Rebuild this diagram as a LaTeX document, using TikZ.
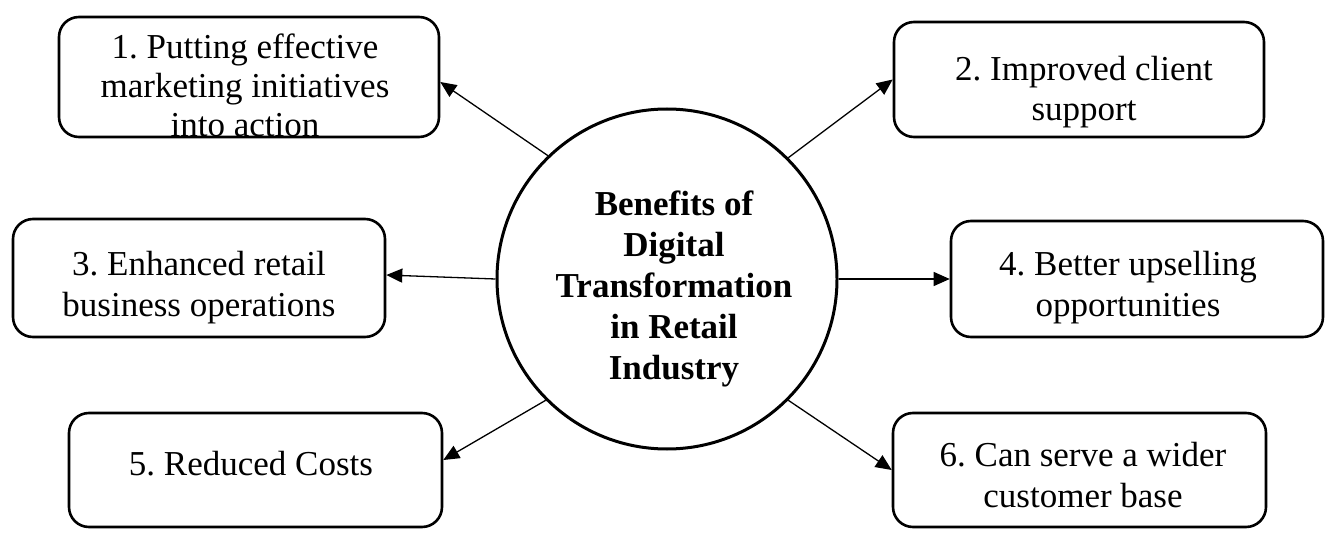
\documentclass[tikz,border=0pt]{standalone}
\usepackage{fontspec}
\setmainfont{Liberation Serif}
\usetikzlibrary{arrows.meta,calc}
\frenchspacing
\begin{document}
\begin{tikzpicture}[x=1pt,y=1pt,
  box/.style={draw, line width=2.6pt, rounded corners=20pt, inner sep=0pt},
  txt/.style={align=center, font=\fontsize{35}{40}\selectfont, inner sep=0pt},
  arr/.style={line width=1.3pt, -{Triangle[length=16pt,width=14pt]}}]
\fill[white] (0,0) rectangle (1336,558);
\useasboundingbox (0,0) rectangle (1336,558);
% centre
\node[draw, circle, line width=3pt, minimum size=340pt, inner sep=0pt] (c) at (667,279) {};
\node[txt, font=\fontsize{35}{41}\selectfont\bfseries] (ct) at (674,269) {Benefits of\\Digital\\Transformation\\in Retail\\Industry};
% boxes
\node[box, minimum width=380pt, minimum height=120pt] (b1) at (249,481) {};
\node[box, minimum width=370pt, minimum height=115pt] (b2) at (1079,478.5) {};
\node[box, minimum width=372pt, minimum height=118pt] (b3) at (199,280) {};
\node[box, minimum width=372pt, minimum height=116pt] (b4) at (1137,279) {};
\node[box, minimum width=373pt, minimum height=114pt] (b5) at (255.5,88) {};
\node[box, minimum width=373pt, minimum height=114pt] (b6) at (1079.5,88) {};
% texts
\node[txt, font=\fontsize{35}{39}\selectfont] (t1) at (245,473) {1. Putting effective\\marketing initiatives\\into action};
\node[txt] (t2) at (1084,466) {2. Improved client\\support};
\node[txt, font=\fontsize{35}{41}\selectfont] (t3) at (199,270) {3. Enhanced retail\\business operations};
\node[txt, font=\fontsize{35}{41}\selectfont] (t4) at (1128,270) {4. Better upselling\\opportunities};
\node[txt, anchor=base] (t5) at (251,83) {5. Reduced Costs};
\node[txt, font=\fontsize{35}{41}\selectfont] (t6) at (1083,83) {6. Can serve a wider\\customer base};
% arrows
\draw[arr] (c.134.5) -- ($(b1.east)+(0,-5)$);
\draw[arr] (c.45) -- (b2.west);
\draw[arr] (c.180) -- ($(b3.east)+(0,3)$);
\draw[arr] (c.0) -- (b4.west);
\draw[arr] (c.225.7) -- ($(b5.east)+(0,10)$);
\draw[arr] (c.315) -- (b6.west);
\end{tikzpicture}
\end{document}
